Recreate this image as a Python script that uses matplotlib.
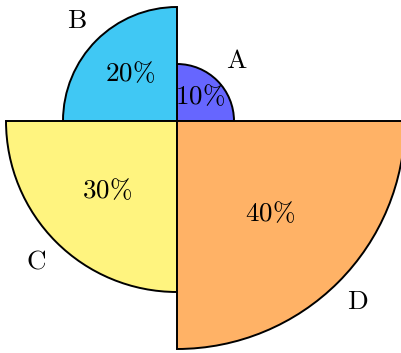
import matplotlib
matplotlib.use('Agg')
import matplotlib.pyplot as plt
from matplotlib.patches import Wedge
import numpy as np

plt.rcParams['mathtext.fontset'] = 'cm'

# 数据
labels = ['A', 'B', 'C', 'D']
values = [10, 20, 30, 40]
colors = ['#6666ff', '#40c8f4', '#fff47f', '#ffb266']

scale = 5.7  # 半径 = 百分比 * scale (像素)

fig = plt.figure(figsize=(4.02, 3.53), dpi=100)
ax = fig.add_axes([0, 0, 1, 1])
ax.set_xlim(-177, 225)
ax.set_ylim(-232, 121)
ax.set_aspect('equal')
ax.axis('off')

for i, (lab, v, c) in enumerate(zip(labels, values, colors)):
    r = v * scale
    t1 = 90 * i
    t2 = 90 * (i + 1)
    ax.add_patch(Wedge((0, 0), r, t1, t2, facecolor=c, edgecolor='black', linewidth=1.4))
    mid = np.deg2rad(t1 + 45)
    ri = 0.58 * r
    ax.text(ri * np.cos(mid), ri * np.sin(mid), r'$\mathrm{%d\%%}$' % v,
            ha='center', va='center', fontsize=19.5)
    ro = r + 28
    ax.text(ro * np.cos(mid), ro * np.sin(mid), r'$\mathrm{%s}$' % lab,
            ha='center', va='center', fontsize=19.5)

fig.savefig('out.png', dpi=100)
